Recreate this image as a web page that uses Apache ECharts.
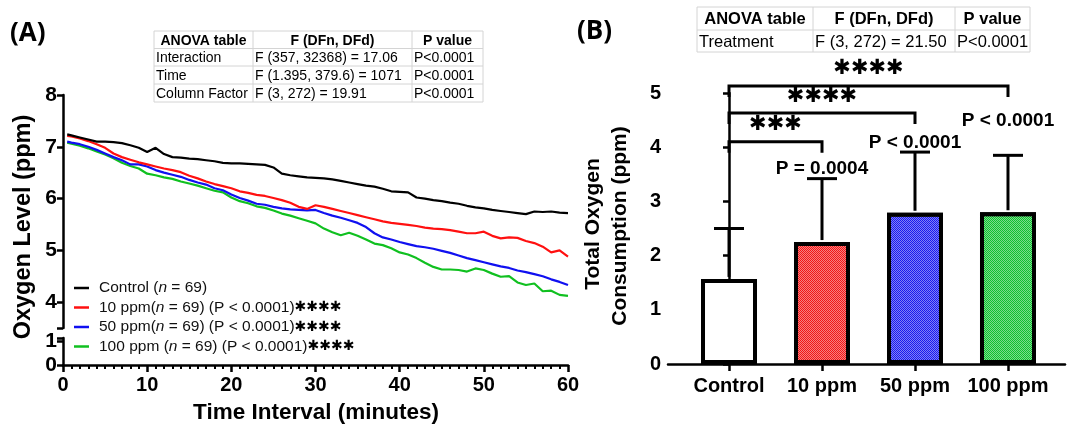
<!DOCTYPE html>
<html><head><meta charset="utf-8">
<script src="https://cdn.jsdelivr.net/npm/echarts@6/dist/echarts.min.js"></script>
<style>html,body{margin:0;padding:0;background:#fff}#c{width:1068px;height:430px}</style>
</head><body><div id="c"></div>
<script>
// ---------- DATA ----------
const times = [0.5,1,2,3,4,5,6,7,8,9,10,11,12,13,14,15,16,17,18,19,20,21,22,23,24,25,26,27,28,29,30,31,32,33,34,35,36,37,38,39,40,41,42,43,44,45,46,47,48,49,50,51,52,53,54,55,56,57,58,59,60];
const controlO2 = [7.24,7.22,7.18,7.14,7.10,7.10,7.09,7.07,7.03,6.98,6.90,6.98,6.86,6.80,6.79,6.77,6.76,6.74,6.72,6.69,6.68,6.68,6.67,6.66,6.65,6.60,6.48,6.45,6.43,6.41,6.40,6.39,6.37,6.34,6.31,6.28,6.25,6.23,6.19,6.14,6.13,6.12,6.02,6.00,5.97,5.95,5.92,5.90,5.86,5.83,5.81,5.78,5.76,5.74,5.72,5.70,5.75,5.74,5.75,5.73,5.72];
const ppm10O2 = [7.21,7.20,7.16,7.11,7.05,6.98,6.87,6.80,6.75,6.70,6.66,6.62,6.58,6.55,6.51,6.44,6.39,6.33,6.28,6.24,6.20,6.14,6.11,6.07,6.05,6.01,5.97,5.92,5.84,5.80,5.87,5.84,5.80,5.76,5.72,5.68,5.64,5.60,5.56,5.53,5.51,5.49,5.47,5.44,5.42,5.41,5.39,5.36,5.33,5.33,5.36,5.28,5.23,5.25,5.24,5.18,5.14,5.07,4.96,5.00,4.88];
const ppm50O2 = [7.10,7.08,7.05,7.00,6.94,6.87,6.80,6.74,6.66,6.66,6.62,6.55,6.50,6.46,6.42,6.36,6.31,6.27,6.20,6.16,6.08,6.01,5.96,5.90,5.88,5.84,5.81,5.79,5.78,5.77,5.78,5.72,5.67,5.63,5.58,5.53,5.45,5.33,5.25,5.21,5.16,5.12,5.08,5.06,5.03,4.99,4.95,4.90,4.85,4.81,4.77,4.73,4.69,4.66,4.61,4.58,4.54,4.50,4.44,4.39,4.33];
const ppm100O2 = [7.08,7.06,7.02,6.97,6.91,6.85,6.78,6.69,6.63,6.58,6.48,6.45,6.41,6.38,6.33,6.29,6.25,6.20,6.15,6.12,6.02,5.95,5.91,5.85,5.82,5.77,5.71,5.67,5.62,5.57,5.52,5.42,5.35,5.29,5.34,5.28,5.21,5.13,5.10,5.04,4.96,4.92,4.85,4.76,4.68,4.63,4.63,4.62,4.59,4.65,4.62,4.55,4.49,4.50,4.38,4.33,4.36,4.21,4.22,4.14,4.12];
const lineNames = ['Control','10 ppm','50 ppm','100 ppm'];
const legendLabels = ['Control (n = 69)','10 ppm(n = 69) (P < 0.0001)****','50 ppm(n = 69) (P < 0.0001)****','100 ppm (n = 69) (P < 0.0001)****'];
const xTicksA = [0,10,20,30,40,50,60];
const yTicksAUpper = [4,5,6,7,8];
const yTicksALower = [0,1];

const categories = ['Control','10 ppm','50 ppm','100 ppm'];
const consumptionMean = [1.57,2.25,2.79,2.80];
const consumptionSD = [0.93,1.17,1.12,1.05];
const yTicksB = [0,1,2,3,4,5];
const pLabels = ['', 'P = 0.0004', 'P < 0.0001', 'P < 0.0001'];
const bracketFrom = [0,0,0];
const bracketTo = [1,2,3];
const bracketLevel = [4.1,4.63,5.13];
const bracketStars = ['***','****','****'];

const tableAHeader = ['ANOVA table','F (DFn, DFd)','P value'];
const tableARows = [
  ['Interaction','F (357, 32368) = 17.06','P<0.0001'],
  ['Time','F (1.395, 379.6) = 1071','P<0.0001'],
  ['Column Factor','F (3, 272) = 19.91','P<0.0001']
];
const tableBHeader = ['ANOVA table','F (DFn, DFd)','P value'];
const tableBRows = [['Treatment','F (3, 272) = 21.50','P<0.0001']];

// ---------- STYLE ----------
const FONT = '"Liberation Sans", Arial, sans-serif';
const lineColors = ['#000000','#ff1010','#1010f0','#10c020'];
const barColors = ['#ffffff','#f01818','#1a1aee','#10c030'];
const pLabelY = [0, 3.60, 4.08, 4.48];
const STAR = '\u2731';
const starText = s => s.replace(/\*/g, STAR);

function table(x, colX, rowY, header, rows, fs){
  const els = [];
  const W = colX[colX.length-1]-x, H = rowY[rowY.length-1]-rowY[0];
  els.push({type:'rect', shape:{x:x, y:rowY[0], width:W, height:H}, style:{fill:'#fff', stroke:'#d4d4d4', lineWidth:1}});
  for (let i=1;i<rowY.length-1;i++) els.push({type:'line', shape:{x1:x,y1:rowY[i],x2:x+W,y2:rowY[i]}, style:{stroke:'#d4d4d4',lineWidth:1}});
  for (let j=1;j<colX.length-1;j++) els.push({type:'line', shape:{x1:colX[j],y1:rowY[0],x2:colX[j],y2:rowY[rowY.length-1]}, style:{stroke:'#d4d4d4',lineWidth:1}});
  header.forEach((h,j)=>{
    const l = j===0?x:colX[j], r = colX[j+1];
    els.push({type:'text', style:{x:(l+r)/2, y:(rowY[0]+rowY[1])/2+1, text:h, font:'bold '+fs+'px '+FONT, fill:'#000', align:'center', verticalAlign:'middle'}});
  });
  rows.forEach((row,i)=>{
    row.forEach((t,j)=>{
      const l = j===0?x:colX[j];
      els.push({type:'text', style:{x:l+2, y:(rowY[i+1]+rowY[i+2])/2+1, text:t, font:fs+'px '+FONT, fill:'#000', align:'left', verticalAlign:'middle'}});
    });
  });
  return els;
}

const chart = echarts.init(document.getElementById('c'), null, {renderer:'canvas'});
const lineData = [controlO2, ppm10O2, ppm50O2, ppm100O2];

const axisLineStyle = {show:true, lineStyle:{color:'#000', width:2.5}};
const boldLabel = (fs)=>({color:'#000', fontWeight:'bold', fontSize:fs, fontFamily:FONT});
const decalOf = c => ({symbol:'rect', symbolSize:1, color:'rgba(255,255,255,0.45)', dashArrayX:[[1,1],[0,1,1,0]], dashArrayY:[1,0]});

const option = {
  animation:false,
  textStyle:{fontFamily:FONT},
  grid:[
    {left:63, width:505, top:95, height:233},
    {left:63, width:505, top:338, height:27},
    {left:668, right:3, top:93, height:271}
  ],
  legend:{
    left:69, top:274, orient:'vertical', itemGap:1.5, icon:'rect', itemWidth:15, itemHeight:2.5,
    data:lineNames,
    formatter: name => {
      const s = legendLabels[lineNames.indexOf(name)];
      return s.replace('n = 69','{i|n} = 69').replace('****','{s|'+starText('****')+'}');
    },
    textStyle:{fontSize:15.5, color:'#111', fontFamily:FONT, lineHeight:18, padding:[0,0,0,5],
      rich:{i:{fontStyle:'italic', fontSize:15.5, fontFamily:FONT, color:'#111'}, s:{fontSize:14, fontFamily:'"DejaVu Sans"', color:'#000'}}}
  },
  xAxis:[
    {gridIndex:0, type:'value', min:0, max:60, show:false},
    {gridIndex:1, type:'value', min:0, max:60, interval:10,
      axisLine:axisLineStyle,
      axisTick:{show:true, length:7, lineStyle:{color:'#000', width:2.5}},
      minorTick:{show:true, splitNumber:10, length:4, lineStyle:{color:'#000', width:2}},
      splitLine:{show:false}, minorSplitLine:{show:false},
      axisLabel:Object.assign(boldLabel(20), {margin:10, customValues:xTicksA})},
    {gridIndex:2, type:'value', min:-0.656, max:3.613,
      axisLine:axisLineStyle,
      axisTick:{show:true, length:7, lineStyle:{color:'#000', width:2.5}, customValues:[0,1,2,3]},
      splitLine:{show:false},
      axisLabel:Object.assign(boldLabel(20), {margin:12, customValues:[0,1,2,3], formatter:v=>categories[Math.round(v)]})}
  ],
  yAxis:[
    {gridIndex:0, type:'value', min:3.5, max:8,
      axisLine:axisLineStyle,
      axisTick:{show:true, length:6, lineStyle:{color:'#000', width:2.5}, customValues:[3.5].concat(yTicksAUpper)},
      splitLine:{show:false},
      axisLabel:Object.assign(boldLabel(21), {margin:6, customValues:yTicksAUpper})},
    {gridIndex:1, type:'value', min:0, max:1.125,
      axisLine:axisLineStyle,
      axisTick:{show:true, length:6, lineStyle:{color:'#000', width:2.5}, customValues:yTicksALower.concat([1.125])},
      splitLine:{show:false},
      axisLabel:Object.assign(boldLabel(21), {margin:6, customValues:yTicksALower})},
    {gridIndex:2, type:'value', min:0, max:5, interval:1,
      axisLine:axisLineStyle,
      axisTick:{show:true, length:6, lineStyle:{color:'#000', width:2.5}, customValues:yTicksB},
      splitLine:{show:false},
      axisLabel:Object.assign(boldLabel(20), {margin:7, customValues:yTicksB, formatter:v=>String(v)})}
  ],
  series: [
    ...lineData.map((arr,k)=>({
      name:lineNames[k], type:'line', xAxisIndex:0, yAxisIndex:0, showSymbol:false, symbol:'none',
      data: arr.map((v,i)=>[times[i], v]), z: 10-k,
      lineStyle:{color:lineColors[k], width:2.2}, itemStyle:{color:lineColors[k]}
    })),
    {
      name:'consumption', type:'bar', xAxisIndex:2, yAxisIndex:2, barWidth:56, z:3,
      data: consumptionMean.map((v,i)=>({value:[i, v], itemStyle:{
        color:barColors[i], borderColor:'#000', borderWidth:4,
        decal: i===0 ? {symbol:'none'} : decalOf(barColors[i])
      }}))
    },
    {
      name:'sd', type:'custom', xAxisIndex:2, yAxisIndex:2, z:4, clip:false,
      data: consumptionMean.map((v,i)=>[i, v, consumptionSD[i]]),
      encode:{x:0, y:1},
      renderItem:(params, api)=>{
        const x=api.value(0), m=api.value(1), s=api.value(2);
        const p0=api.coord([x,m]), p1=api.coord([x,m+s]);
        const ch=[
          {type:'line', shape:{x1:p0[0],y1:p0[1]-2,x2:p1[0],y2:p1[1]}, style:{stroke:'#000',lineWidth:3}},
          {type:'line', shape:{x1:p1[0]-15,y1:p1[1],x2:p1[0]+15,y2:p1[1]}, style:{stroke:'#000',lineWidth:3}}
        ];
        const idx = params.dataIndex;
        if (pLabels[idx]) {
          const pt = api.coord([x, pLabelY[idx]]);
          ch.push({type:'text', style:{x:pt[0], y:pt[1], text:pLabels[idx], font:'bold 19px '+FONT, fill:'#000', align:'center', verticalAlign:'middle'}});
        }
        return {type:'group', children:ch};
      }
    },
    {
      name:'brackets', type:'custom', xAxisIndex:2, yAxisIndex:2, z:4, clip:false,
      data: bracketFrom.map((f,i)=>[f, bracketTo[i], bracketLevel[i]]),
      encode:{x:[0,1], y:2},
      renderItem:(params, api)=>{
        const a=api.coord([api.value(0), api.value(2)]), b=api.coord([api.value(1), api.value(2)]);
        const drop = 11;
        return {type:'group', children:[
          {type:'polyline', shape:{points:[[a[0],a[1]+drop],[a[0],a[1]],[b[0],b[1]],[b[0],b[1]+drop]]}, style:{stroke:'#000', lineWidth:3, fill:null}},
          {type:'text', style:{x:(a[0]+b[0])/2, y:a[1]-17, text:starText(bracketStars[params.dataIndex]), font:'21px "DejaVu Sans"', fill:'#000', align:'center', verticalAlign:'middle'}}
        ]};
      }
    }
  ],
  graphic: [
    {type:'text', left:10, top:21, style:{text:'(A)', font:'bold 26px "Open Sans", sans-serif', fill:'#000'}},
    {type:'text', left:577, top:19, style:{text:'(B)', font:'bold 26px "Open Sans", sans-serif', fill:'#000'}},
    {type:'text', x:24, y:227, rotation:Math.PI/2, style:{text:'Oxygen Level (ppm)', font:'bold 23.5px '+FONT, fill:'#000', align:'center', verticalAlign:'middle'}},
    {type:'text', x:316, y:413, style:{text:'Time Interval (minutes)', font:'bold 22.5px '+FONT, fill:'#000', align:'center', verticalAlign:'middle'}},
    {type:'text', x:593, y:224, rotation:Math.PI/2, style:{text:'Total Oxygen', font:'bold 21px '+FONT, fill:'#000', align:'center', verticalAlign:'middle'}},
    {type:'text', x:620, y:226, rotation:Math.PI/2, style:{text:'Consumption (ppm)', font:'bold 21px '+FONT, fill:'#000', align:'center', verticalAlign:'middle'}},
    {type:'group', children: table(154, [154,253,412,483], [31,48.5,66,84,102], tableAHeader, tableARows, 14)},
    {type:'group', children: table(697, [697,813,955,1030], [7,30,52], tableBHeader, tableBRows, 16.5)}
  ]
};
chart.setOption(option);
</script></body></html>
